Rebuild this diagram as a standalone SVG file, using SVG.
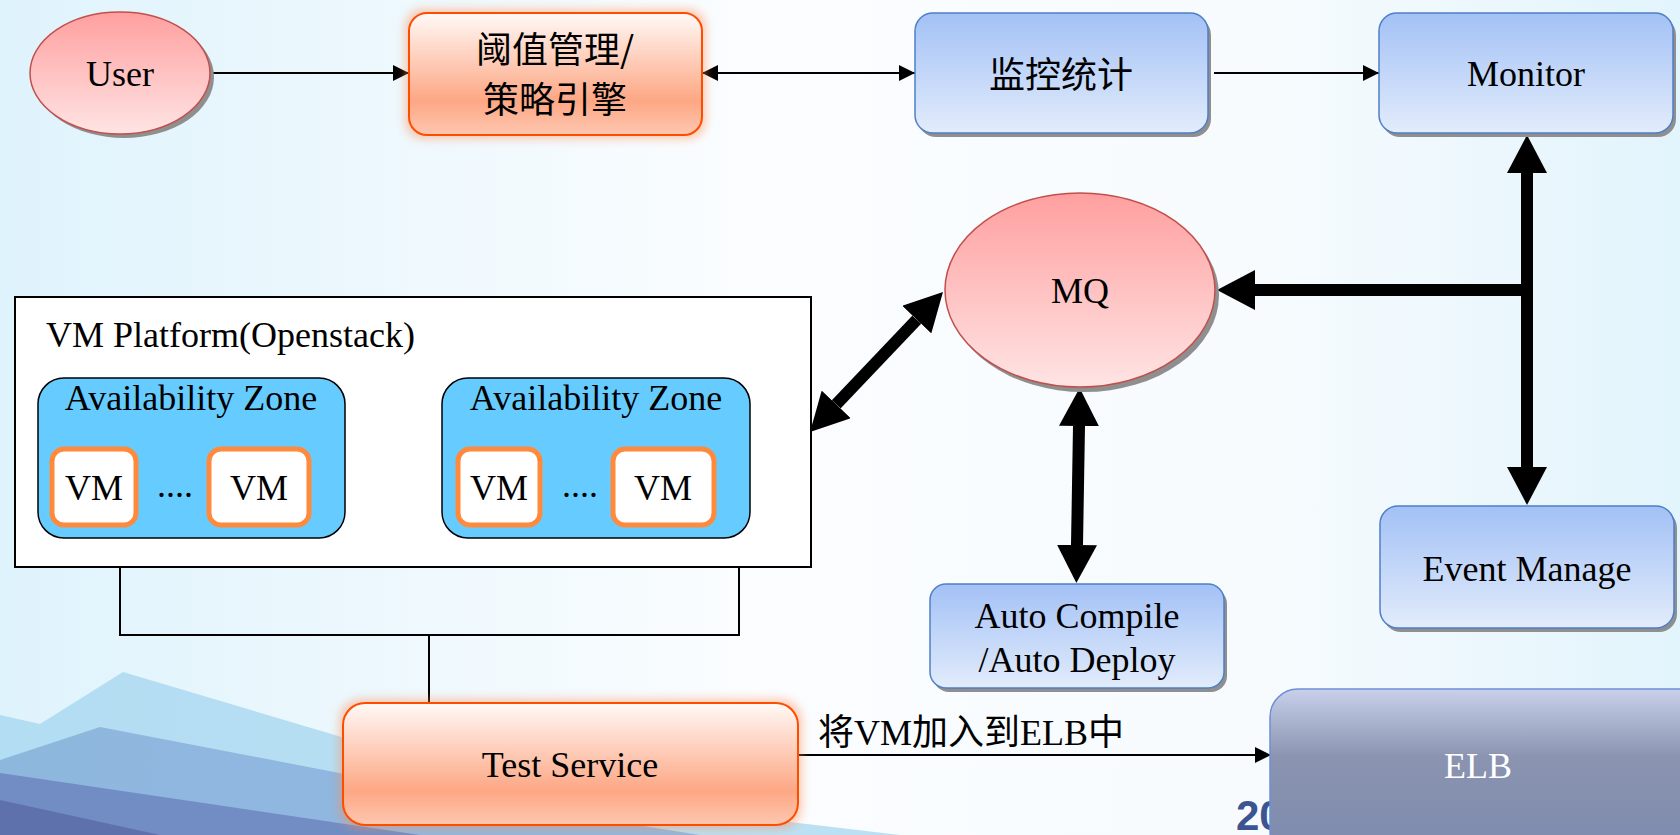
<svg xmlns="http://www.w3.org/2000/svg" width="1680" height="835" viewBox="0 0 1680 835">
<defs>
<linearGradient id="bg" x1="0" y1="0" x2="1" y2="0">
<stop offset="0" stop-color="#dff3fc"/>
<stop offset="0.45" stop-color="#fbfdff"/>
<stop offset="0.75" stop-color="#f7fbfe"/>
<stop offset="1" stop-color="#e2f4fc"/>
</linearGradient>
<linearGradient id="gBlue" x1="0" y1="0" x2="0" y2="1">
<stop offset="0" stop-color="#a3c1f6"/>
<stop offset="1" stop-color="#e2ecfb"/>
</linearGradient>
<linearGradient id="gOrange" x1="0" y1="0" x2="0" y2="1">
<stop offset="0" stop-color="#fff9f7"/>
<stop offset="0.72" stop-color="#fda784"/>
<stop offset="1" stop-color="#fdc7b0"/>
</linearGradient>
<linearGradient id="gRed" x1="0" y1="0" x2="0" y2="1">
<stop offset="0" stop-color="#ff9f9f"/>
<stop offset="1" stop-color="#ffe4e4"/>
</linearGradient>
<linearGradient id="gElb" x1="0" y1="0" x2="0" y2="1">
<stop offset="0" stop-color="#c8d0ea"/>
<stop offset="0.4" stop-color="#8a94b0"/>
<stop offset="1" stop-color="#7d8aad"/>
</linearGradient>
<filter id="glow" x="-10%" y="-20%" width="120%" height="140%">
<feGaussianBlur stdDeviation="5"/>
</filter>
<marker id="ah" viewBox="0 0 16 16" refX="16" refY="8" markerWidth="16" markerHeight="16" markerUnits="userSpaceOnUse" orient="auto-start-reverse">
<path d="M0,0 L16,8 L0,16 z" fill="#000"/>
</marker>
<marker id="bh" viewBox="0 0 38 40" refX="0" refY="20" markerWidth="38" markerHeight="40" markerUnits="userSpaceOnUse" orient="auto-start-reverse">
<path d="M0,0 L38,20 L0,40 z" fill="#000"/>
</marker>
<style>
.t{font-family:"Liberation Serif","Noto Sans CJK SC",serif;font-size:36px;fill:#000}
.c{font-family:"Noto Sans CJK SC","Liberation Sans",sans-serif;font-size:36px;fill:#000}
.blue{fill:url(#gBlue);stroke:#4f7fc6;stroke-width:1.5}
.shadow{fill:#8f8f8f}
.orange{fill:url(#gOrange);stroke:#ff4d00;stroke-width:2}
.glowr{fill:#ff8a50;opacity:0.45}
.red{fill:url(#gRed);stroke:#c0504d;stroke-width:1.5}
.thin{stroke:#000;stroke-width:2;fill:none}
.thick{stroke:#000;stroke-width:12;fill:none}
.az{fill:#66ccff;stroke:#000;stroke-width:1.5}
.vm{fill:#fff;stroke:#ff8a3c;stroke-width:5}
</style>
</defs>

<!-- background -->
<rect x="0" y="0" width="1680" height="835" fill="url(#bg)"/>
<g id="decor">
<polygon points="0,715 40,724 123,672 520,790 900,835 0,835" fill="#9fd3ee" opacity="0.7"/>
<polygon points="0,760 100,727 480,800 700,835 0,835" fill="#7fa6d6" opacity="0.7"/>
<polygon points="0,773 420,835 0,835" fill="#6a82bd" opacity="0.8"/>
<polygon points="0,800 160,835 0,835" fill="#5a6aa8" opacity="0.8"/>
</g>
<text x="1236" y="830" font-family="Liberation Sans, sans-serif" font-weight="bold" font-size="42" fill="#3b5591">20</text>

<!-- connectors -->
<g id="connectors">
<line class="thin" x1="210" y1="73" x2="409" y2="73" marker-end="url(#ah)"/>
<line class="thin" x1="702" y1="73" x2="915" y2="73" marker-start="url(#ah)" marker-end="url(#ah)"/>
<line class="thin" x1="1214" y1="73" x2="1379" y2="73" marker-end="url(#ah)"/>
<line class="thick" x1="1527" y1="173" x2="1527" y2="467" marker-start="url(#bh)" marker-end="url(#bh)"/>
<line class="thick" x1="1527" y1="290" x2="1255" y2="290" marker-end="url(#bh)"/>
<line class="thick" x1="916.8" y1="319.6" x2="836.2" y2="404.4" marker-start="url(#bh)" marker-end="url(#bh)"/>
<line class="thick" x1="1079" y1="426" x2="1077" y2="545" marker-start="url(#bh)" marker-end="url(#bh)"/>
<polyline class="thin" points="120,567 120,635 739,635 739,567" stroke-width="2"/>
<line class="thin" x1="429" y1="635" x2="429" y2="703" stroke-width="1.5"/>
<line class="thin" x1="798" y1="755" x2="1271" y2="755" marker-end="url(#ah)"/>
<text class="t" x="818" y="745">将VM加入到ELB中</text>
</g>

<g id="user">
<ellipse class="shadow" cx="124" cy="77" rx="90" ry="61"/>
<ellipse class="red" cx="120" cy="73" rx="90" ry="61"/>
<text class="t" x="120" y="86" text-anchor="middle">User</text>
</g>

<g id="threshold">
<rect class="glowr" x="405" y="9" width="301" height="130" rx="18" filter="url(#glow)"/>
<rect class="orange" x="409" y="13" width="293" height="122" rx="18"/>
<text class="c" x="555" y="63" text-anchor="middle">阈值管理/</text>
<text class="c" x="555" y="113" text-anchor="middle">策略引擎</text>
</g>

<g id="stats">
<rect class="shadow" x="918" y="17" width="293" height="120" rx="18"/>
<rect class="blue" x="915" y="13" width="293" height="120" rx="18"/>
<text class="c" x="1061" y="88" text-anchor="middle">监控统计</text>
</g>

<g id="monitor">
<rect class="shadow" x="1382" y="17" width="294" height="120" rx="18"/>
<rect class="blue" x="1379" y="13" width="294" height="120" rx="18"/>
<text class="t" x="1526" y="86" text-anchor="middle">Monitor</text>
</g>

<g id="mq">
<ellipse class="shadow" cx="1084" cy="295" rx="135" ry="97"/>
<ellipse class="red" cx="1080" cy="290" rx="135" ry="97"/>
<text class="t" x="1080" y="303" text-anchor="middle">MQ</text>
</g>

<g id="vm-platform">
<rect x="15" y="297" width="796" height="270" fill="#fff" stroke="#000" stroke-width="2"/>
<text class="t" x="46" y="347">VM Platform(Openstack)</text>
<g id="az1">
<rect class="az" x="38" y="378" width="307" height="160" rx="26"/>
<text class="t" x="191" y="410" text-anchor="middle">Availability Zone</text>
<rect class="vm" x="52" y="449" width="84" height="76" rx="12"/>
<text class="t" x="94" y="500" text-anchor="middle">VM</text>
<text class="t" x="157" y="497">....</text>
<rect class="vm" x="209" y="449" width="100" height="76" rx="12"/>
<text class="t" x="259" y="500" text-anchor="middle">VM</text>
</g>
<g id="az2">
<rect class="az" x="442" y="378" width="308" height="160" rx="26"/>
<text class="t" x="596" y="410" text-anchor="middle">Availability Zone</text>
<rect class="vm" x="458" y="449" width="82" height="76" rx="12"/>
<text class="t" x="499" y="500" text-anchor="middle">VM</text>
<text class="t" x="562" y="497">....</text>
<rect class="vm" x="613" y="449" width="101" height="76" rx="12"/>
<text class="t" x="663" y="500" text-anchor="middle">VM</text>
</g>
</g>

<g id="auto-compile">
<rect class="shadow" x="933" y="588" width="294" height="104" rx="16"/>
<rect class="blue" x="930" y="584" width="294" height="104" rx="16"/>
<text class="t" x="1077" y="628" text-anchor="middle">Auto Compile</text>
<text class="t" x="1077" y="672" text-anchor="middle">/Auto Deploy</text>
</g>

<g id="event-manage">
<rect class="shadow" x="1383" y="510" width="294" height="122" rx="18"/>
<rect class="blue" x="1380" y="506" width="294" height="122" rx="18"/>
<text class="t" x="1527" y="581" text-anchor="middle">Event Manage</text>
</g>

<g id="test-service">
<rect class="glowr" x="339" y="699" width="463" height="130" rx="22" filter="url(#glow)"/>
<rect class="orange" x="343" y="703" width="455" height="122" rx="22"/>
<text class="t" x="570" y="777" text-anchor="middle">Test Service</text>
</g>

<g id="elb">
<rect x="1273" y="692" width="440" height="170" rx="28" fill="#9aa3b8" opacity="0.6"/>
<rect x="1270" y="689" width="440" height="170" rx="28" fill="url(#gElb)" stroke="#6d8fd8" stroke-width="1.5"/>
<text x="1478" y="778" text-anchor="middle" font-family="Liberation Serif, serif" font-size="36" fill="#fff">ELB</text>
</g>
</svg>
